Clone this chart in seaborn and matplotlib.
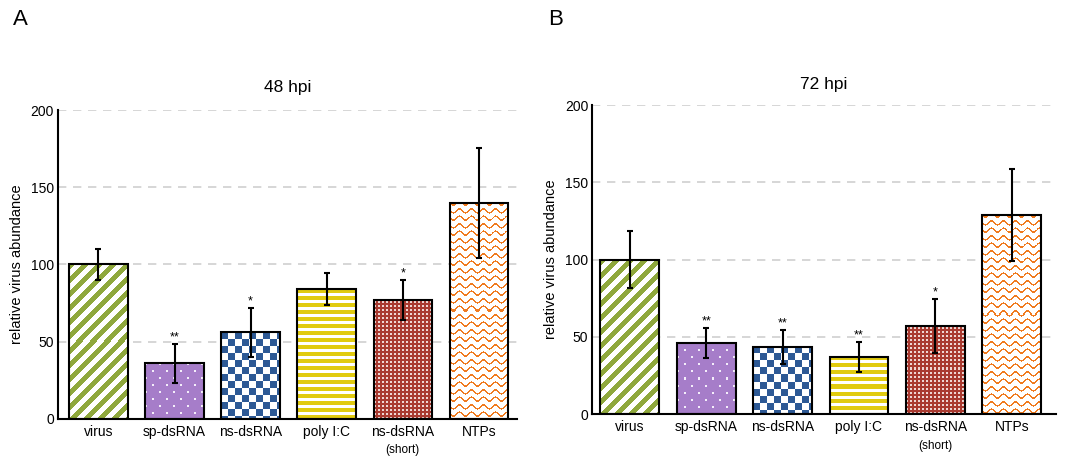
import numpy as np
import pandas as pd
import matplotlib
matplotlib.use("Agg")
import matplotlib.pyplot as plt
import matplotlib.colors as mcolors
import seaborn as sns

# values
categories = ["virus", "sp-dsRNA", "ns-dsRNA", "poly I:C", "ns-dsRNA (short)", "NTPs"]
tick_labels = ["virus", "sp-dsRNA", "ns-dsRNA", "poly I:C", "ns-dsRNA", "NTPs"]
abundance_48 = [100, 36, 56, 84, 77, 140]
sd_48 = [10, 12.5, 16, 10.5, 13, 35.5]
stars_48 = ["", "**", "*", "", "*", ""]
abundance_72 = [100, 46, 43.5, 37, 57, 129]
sd_72 = [18.5, 9.7, 10.8, 9.7, 17.3, 29.8]
stars_72 = ["", "**", "**", "**", "*", ""]
textures = ["diag", "purple_dots", "checker", "hstripes", "brown_dots", "waves"]


def rgb(c):
    return np.array(mcolors.to_rgb(c))


def make_texture(kind, w, h):
    """Pixel texture (origin lower) used to fill one bar."""
    yy, xx = np.mgrid[0:h, 0:w]
    img = np.ones((h, w, 3))
    if kind == "diag":
        img[((xx - yy) % 14) < 7] = rgb("#8fa83c")
    elif kind == "purple_dots":
        img[:] = rgb("#a67dc9")
        r = (h - 1 - yy) // 7
        on = ((h - 1 - yy) % 7 < 2) & (((xx + 7 * (r % 2)) % 14) < 2)
        img[on] = rgb("#f4eefa")
    elif kind == "checker":
        img[((xx // 7 + (h - 1 - yy) // 7) % 2) == 0] = rgb("#2d5995")
    elif kind == "hstripes":
        img[((h - 1 - yy) % 7) < 4] = rgb("#e1cb0f")
    elif kind == "brown_dots":
        img[:] = rgb("#a93a30")
        on = (xx % 4 < 2) & (yy % 4 < 2)
        img[on] = rgb("#efd6d3")
    elif kind == "waves":
        d = ((h - 1 - yy) - 2.0 * np.sin(2 * np.pi * xx / 12.0)) % 7.5
        img[d < 1.7] = rgb("#f07b1f")
    return img


def draw_panel(ax, values, errs, stars, title, xlim, title_pad):
    df = pd.DataFrame({"category": categories, "value": values})
    sns.barplot(data=df, x="category", y="value", order=categories, color="white",
                errorbar=None, width=0.77, edgecolor="black", linewidth=1.5, ax=ax)
    ax.set_xlim(*xlim)
    ax.set_ylim(0, 200)

    # fill each bar with its pattern, clipped to the bar
    for bar, kind in zip(ax.patches, textures):
        bar.set_facecolor("none")
        bar.set_zorder(2)
        ext = bar.get_window_extent()
        w, h = max(int(round(ext.width)), 1), max(int(round(ext.height)), 1)
        x0, y0 = bar.get_x(), bar.get_y()
        im = ax.imshow(make_texture(kind, w, h), origin="lower", aspect="auto",
                       interpolation="nearest",
                       extent=(x0, x0 + bar.get_width(), y0, y0 + bar.get_height()),
                       zorder=1)
        im.set_clip_path(bar)
    ax.set_xlim(*xlim)
    ax.set_ylim(0, 200)

    ax.errorbar(range(len(values)), values, yerr=errs, fmt="none", ecolor="black",
                elinewidth=1.5, capsize=2.5, capthick=1.5, zorder=3)
    for i, (v, e, s) in enumerate(zip(values, errs, stars)):
        if s:
            ax.annotate(s, (i, v + e), xytext=(0, 0.5), textcoords="offset points",
                        ha="center", va="bottom", fontsize=9)

    ax.set_xticks(range(len(categories)))
    ax.set_xticklabels(tick_labels, fontsize=10)
    ax.annotate("(short)", xy=(4, 0), xycoords=("data", "axes fraction"),
                xytext=(0, -22.5), textcoords="offset points",
                ha="center", va="center", fontsize=8.5)
    ax.set_xticks([k + 0.5 for k in range(6)], minor=True)
    ax.tick_params(axis="x", which="major", length=0, pad=4)
    ax.tick_params(axis="x", which="minor", direction="in", length=2.5, width=2)

    ax.set_yticks([0, 50, 100, 150, 200])
    ax.tick_params(axis="y", direction="in", length=3, width=1.5, pad=3, labelsize=10)
    ax.set_xlabel("")
    ax.set_ylabel("relative virus abundance", fontsize=10.5, labelpad=5)
    ax.set_title(title, fontsize=12.5, pad=title_pad)

    ax.yaxis.grid(True, linestyle=(0, (5, 4)), color="#d0d0d0", linewidth=1.2)
    ax.xaxis.grid(False)
    ax.set_axisbelow(True)
    for side in ["top", "right"]:
        ax.spines[side].set_visible(False)
    for side in ["left", "bottom"]:
        ax.spines[side].set_color("black")
        ax.spines[side].set_linewidth(1.5)


sns.set_theme(style="white")
plt.rcParams["font.family"] = ["Liberation Sans", "DejaVu Sans"]
plt.rcParams["text.color"] = "black"
plt.rcParams["axes.labelcolor"] = "black"
plt.rcParams["xtick.color"] = "black"
plt.rcParams["ytick.color"] = "black"

fig = plt.figure(figsize=(10.73, 4.58), dpi=100)
ax1 = fig.add_axes([0.0543, 0.0852, 0.4275, 0.6746])
ax2 = fig.add_axes([0.552, 0.0954, 0.4322, 0.6753])

draw_panel(ax1, abundance_48, sd_48, stars_48, "48 hpi", (-0.528, 5.498), 13)
draw_panel(ax2, abundance_72, sd_72, stars_72, "72 hpi", (-0.49, 5.58), 11.5)

fig.text(13 / 1073, 1 - 25 / 458, "A", fontsize=16, va="baseline")
fig.text(548 / 1073, 1 - 25 / 458, "B", fontsize=16, va="baseline")

fig.savefig("out.png", dpi=100)
